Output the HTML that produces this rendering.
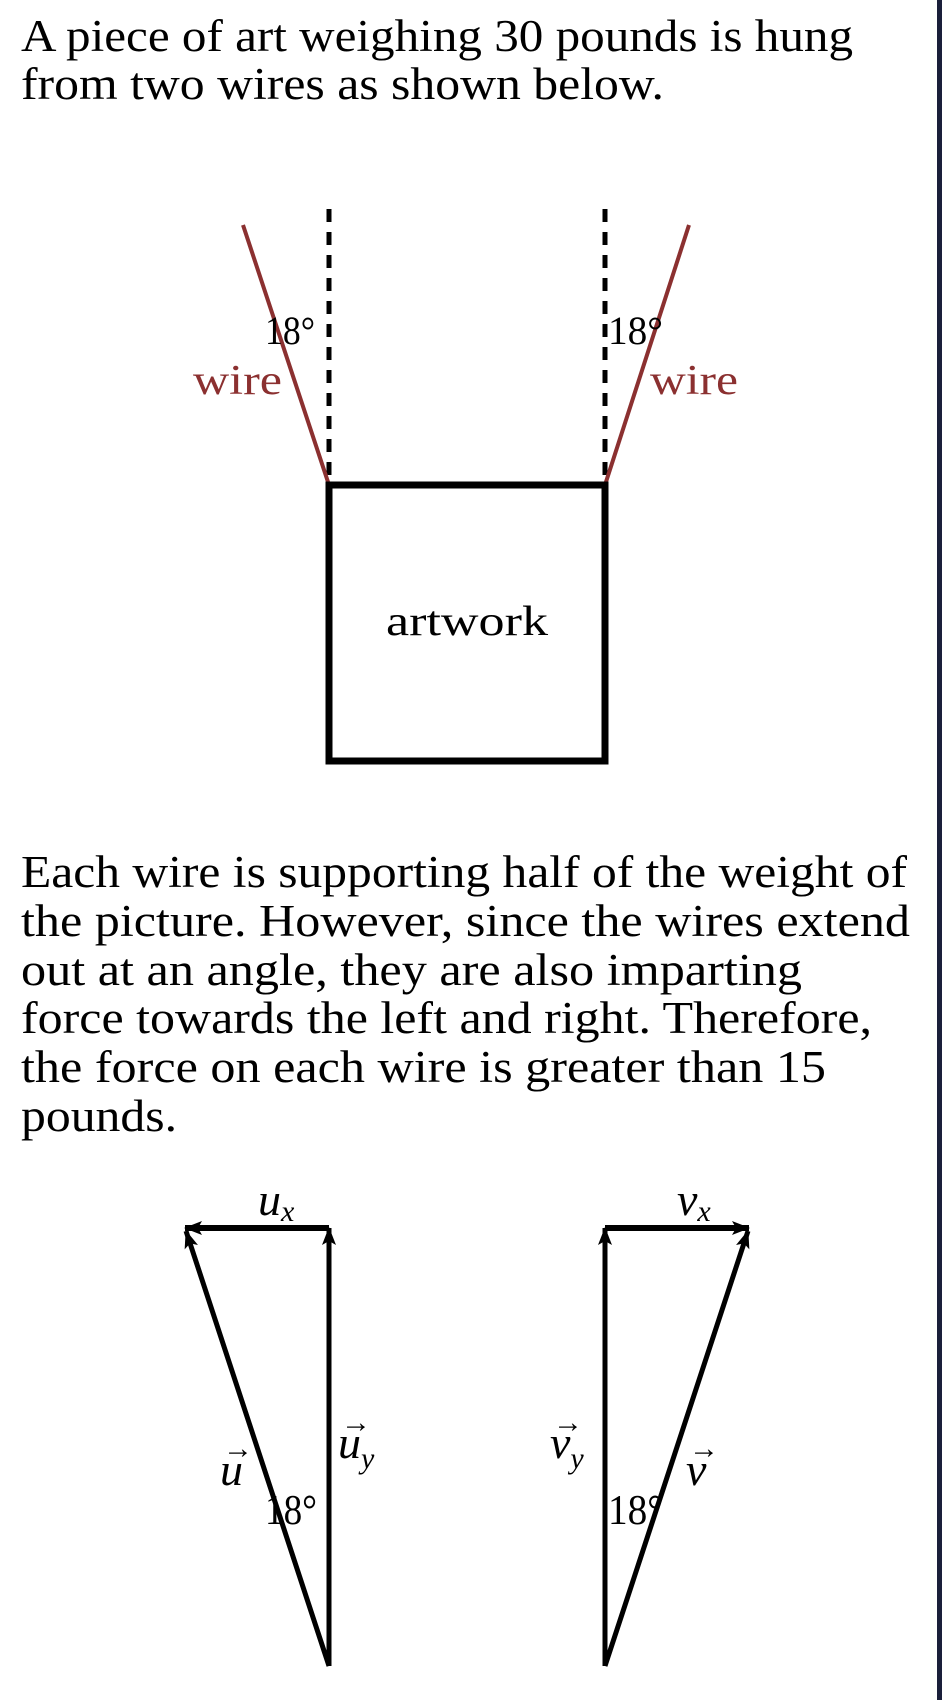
<!DOCTYPE html>
<html><head><meta charset="utf-8"><style>
html,body{margin:0;padding:0;background:#fff;}
svg{display:block;}
text{font-family:"Liberation Serif",serif;fill:#000;}
</style></head><body>
<svg width="942" height="1700" viewBox="0 0 942 1700" xmlns="http://www.w3.org/2000/svg">
<defs>
<marker id="ah" markerWidth="18" markerHeight="14" refX="17" refY="7" orient="auto" markerUnits="userSpaceOnUse" viewBox="0 0 18 14">
<path d="M0,0 L18,7 L0,14 L4,7 Z" fill="#000"/>
</marker>
</defs>
<rect x="937" y="0" width="5" height="1700" fill="#1a1f3a"/>
<g font-size="45">
<text x="21" y="51" textLength="832" lengthAdjust="spacingAndGlyphs">A piece of art weighing 30 pounds is hung</text>
<text x="21" y="99" textLength="643" lengthAdjust="spacingAndGlyphs">from two wires as shown below.</text>
<text x="21" y="887" textLength="886" lengthAdjust="spacingAndGlyphs">Each wire is supporting half of the weight of</text>
<text x="21" y="936" textLength="889" lengthAdjust="spacingAndGlyphs">the picture. However, since the wires extend</text>
<text x="21" y="985" textLength="781" lengthAdjust="spacingAndGlyphs">out at an angle, they are also imparting</text>
<text x="21" y="1033" textLength="851" lengthAdjust="spacingAndGlyphs">force towards the left and right. Therefore,</text>
<text x="21" y="1082" textLength="805" lengthAdjust="spacingAndGlyphs">the force on each wire is greater than 15</text>
<text x="21" y="1131" textLength="156" lengthAdjust="spacingAndGlyphs">pounds.</text>
</g>
<!-- top diagram -->
<line x1="329" y1="209" x2="329" y2="485" stroke="#000" stroke-width="5" stroke-dasharray="13,10"/>
<line x1="605" y1="209" x2="605" y2="485" stroke="#000" stroke-width="5" stroke-dasharray="13,10"/>
<line x1="243" y1="225" x2="329" y2="485" stroke="#8b3030" stroke-width="4"/>
<line x1="689" y1="225" x2="605" y2="485" stroke="#8b3030" stroke-width="4"/>
<rect x="329" y="485" width="276" height="276" fill="none" stroke="#000" stroke-width="7"/>
<text x="265" y="344" font-size="40" textLength="50" lengthAdjust="spacingAndGlyphs">18°</text>
<text x="608" y="344" font-size="40" textLength="55" lengthAdjust="spacingAndGlyphs">18°</text>
<text x="193" y="394" font-size="42" style="fill:#8b3030" textLength="89" lengthAdjust="spacingAndGlyphs">wire</text>
<text x="650" y="394" font-size="42" style="fill:#8b3030" textLength="88" lengthAdjust="spacingAndGlyphs">wire</text>
<text x="386" y="635" font-size="42" textLength="162" lengthAdjust="spacingAndGlyphs">artwork</text>
<!-- bottom diagrams -->
<g stroke="#000" stroke-width="5" fill="none">
<line x1="329" y1="1666" x2="329" y2="1228" marker-end="url(#ah)"/>
<line x1="329" y1="1228" x2="185" y2="1228" stroke-width="6" marker-end="url(#ah)"/>
<line x1="329" y1="1666" x2="186" y2="1231" marker-end="url(#ah)"/>
<line x1="605" y1="1666" x2="605" y2="1228" marker-end="url(#ah)"/>
<line x1="605" y1="1228" x2="749" y2="1228" stroke-width="6" marker-end="url(#ah)"/>
<line x1="605" y1="1666" x2="748" y2="1231" marker-end="url(#ah)"/>
</g>
<g font-style="italic" font-size="46">
<text x="258" y="1215">u<tspan font-size="30" dy="6">x</tspan></text>
<text x="677" y="1215">v<tspan font-size="30" dy="6">x</tspan></text>
<text x="220" y="1485">u</text>
<text x="338" y="1458">u<tspan font-size="30" dy="10">y</tspan></text>
<text x="550" y="1458">v<tspan font-size="30" dy="10">y</tspan></text>
<text x="686" y="1485">v</text>
</g>
<g font-size="30">
<text x="223" y="1458">→</text>
<text x="341" y="1432">→</text>
<text x="553" y="1432">→</text>
<text x="689" y="1458">→</text>
</g>
<text x="265" y="1524" font-size="42" textLength="52" lengthAdjust="spacingAndGlyphs">18°</text>
<text x="608" y="1524" font-size="42" textLength="55" lengthAdjust="spacingAndGlyphs">18°</text>
</svg>
</body></html>
